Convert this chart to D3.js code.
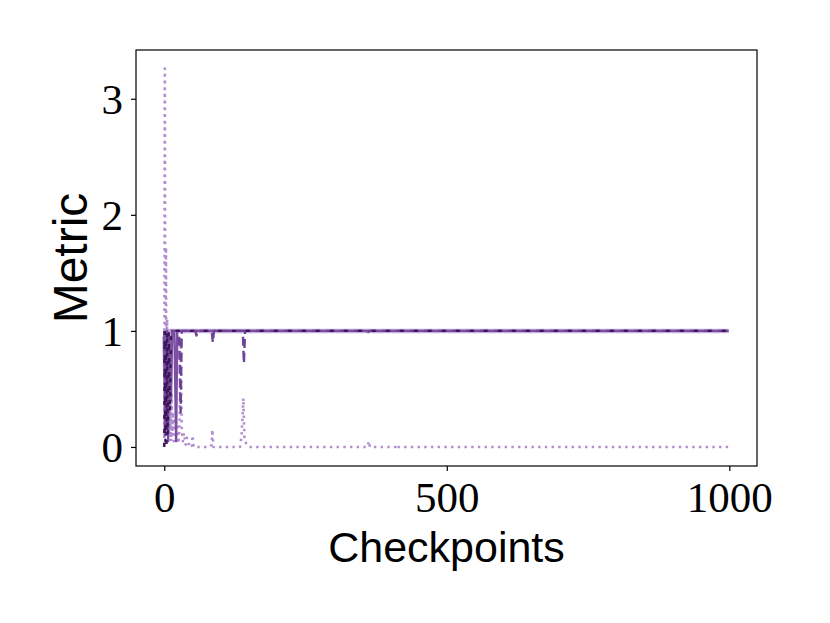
<!DOCTYPE html>
<meta charset="utf-8">
<style>
body { margin: 0; background: #fff; }
.tick-label { font-family: "Liberation Serif", "DejaVu Serif", serif; font-size: 43px; fill: #000; }
.axis-title { font-family: "Liberation Sans", Arial, sans-serif; fill: #000; }
</style>
<svg width="830" height="623"></svg>
<script src="https://d3js.org/d3.v7.min.js"></script>
<script>

// tick values
var xTicks = [0, 500, 1000],
    yTicks = [0, 1, 2, 3];

// each series: [checkpoint, metric] pairs
var haloSolid = [[0, 0.95], [2, 0.6], [4, 1], [6, 0.85], [9, 1], [999, 1]];

var mediumSolid = [[0, 1], [1, 0.1], [2, 0.9], [3, 0.2], [5, 1], [7, 0.05], [9, 0.95],
  [12, 0.4], [14, 1], [18, 0.98], [21, 0.05], [23, 1], [359, 1], [361, 0.99], [363, 1], [999, 1]];

var darkDashed = [[0, 0], [1, 1], [2, 0.05], [3, 0.95], [4, 0.02], [5, 1], [6, 0.1],
  [8, 0.98], [10, 0.3], [12, 1], [999, 1]];

var mediumDashed = [[0, 0.9], [3, 0.3], [6, 1], [26, 1], [29, 0.3], [31, 1], [55, 1],
  [57, 0.96], [59, 1], [84, 1], [86, 0.9], [88, 1], [139, 1], [141, 0.72], [143, 1], [999, 1]];

var lightDotted = [[0, 0.02], [1, 3.26], [2, 0.4], [3, 1.72], [4, 0.2], [5, 1.1], [6, 0.3],
  [7, 0.9], [8, 0.1], [9, 0.7], [10, 0.15], [11, 0.5], [12, 0.05], [13, 0.45], [14, 0.1],
  [15, 0.3], [17, 0.05], [19, 0.25], [21, 0.08], [23, 0.2], [25, 0.03], [27, 0.15],
  [29, 0.95], [31, 0.15], [33, 0.05], [35, 0.12], [38, 0.02], [40, 0.08], [45, 0], [49, 0], [50, 0.1],
  [52, 0], [80, 0], [84, 0.02], [85, 0.15], [87, 0], [134, 0], [137, 0.1], [140, 0.42],
  [142, 0.05], [150, 0], [360, 0], [362, 0.05], [364, 0], [409, 0], [410, 0.02], [412, 0], [999, 0]];

var series = [
  { data: haloSolid, color: "#c8addf", width: 4.5, dash: null },
  { data: lightDotted, color: "#b28ed0", width: 2.6, dash: "2.4,4.3" },
  { data: mediumSolid, color: "#7b50a2", width: 2.4, dash: null },
  { data: mediumDashed, color: "#6e4296", width: 2.4, dash: "9,5" },
  { data: darkDashed, color: "#3c1659", width: 2.4, dash: "4,10" }
];

var svg = d3.select("svg");
var mLeft = 136, mRight = 757, mTop = 50, mBottom = 466;

var x = d3.scaleLinear().domain([-50, 1049]).range([mLeft, mRight]);
var y = d3.scaleLinear().domain([-0.164, 3.42]).range([mBottom, mTop]);

svg.append("clipPath").attr("id", "plot")
  .append("rect")
    .attr("x", mLeft).attr("y", mTop)
    .attr("width", mRight - mLeft).attr("height", mBottom - mTop);

var line = d3.line()
    .x(function(d) { return x(d[0]); })
    .y(function(d) { return y(d[1]); });

svg.append("g")
    .attr("clip-path", "url(#plot)")
  .selectAll("path")
  .data(series)
  .enter().append("path")
    .attr("d", function(d) { return line(d.data); })
    .attr("fill", "none")
    .attr("stroke", function(d) { return d.color; })
    .attr("stroke-width", function(d) { return d.width; })
    .attr("stroke-dasharray", function(d) { return d.dash; })
    .attr("stroke-linejoin", "round");

// axes
var xAxis = svg.append("g")
    .attr("transform", "translate(0," + mBottom + ")")
    .call(d3.axisBottom(x).tickValues(xTicks).tickSize(5).tickPadding(7).tickFormat(d3.format("d")));

var yAxis = svg.append("g")
    .attr("transform", "translate(" + mLeft + ",0)")
    .call(d3.axisLeft(y).tickValues(yTicks).tickSize(5).tickPadding(8).tickFormat(d3.format("d")));

[xAxis, yAxis].forEach(function(a) {
  a.select(".domain").remove();
  a.selectAll(".tick line").attr("stroke", "#000").attr("stroke-width", 1.2);
  a.selectAll(".tick text").attr("class", "tick-label").attr("font-size", null).attr("font-family", null);
});
xAxis.selectAll(".tick text").attr("dy", "0.78em");
yAxis.selectAll(".tick text").attr("dy", "0.34em");

svg.append("rect")
    .attr("x", mLeft).attr("y", mTop)
    .attr("width", mRight - mLeft).attr("height", mBottom - mTop)
    .attr("fill", "none").attr("stroke", "#000").attr("stroke-width", 1.2);

svg.append("text")
    .attr("class", "axis-title")
    .attr("x", (mLeft + mRight) / 2).attr("y", 562)
    .attr("text-anchor", "middle")
    .style("font-size", "43px")
    .text("Checkpoints");

svg.append("text")
    .attr("class", "axis-title")
    .attr("transform", "translate(87," + (mTop + mBottom) / 2 + ") rotate(-90)")
    .attr("text-anchor", "middle")
    .style("font-size", "48px")
    .text("Metric");

</script>
